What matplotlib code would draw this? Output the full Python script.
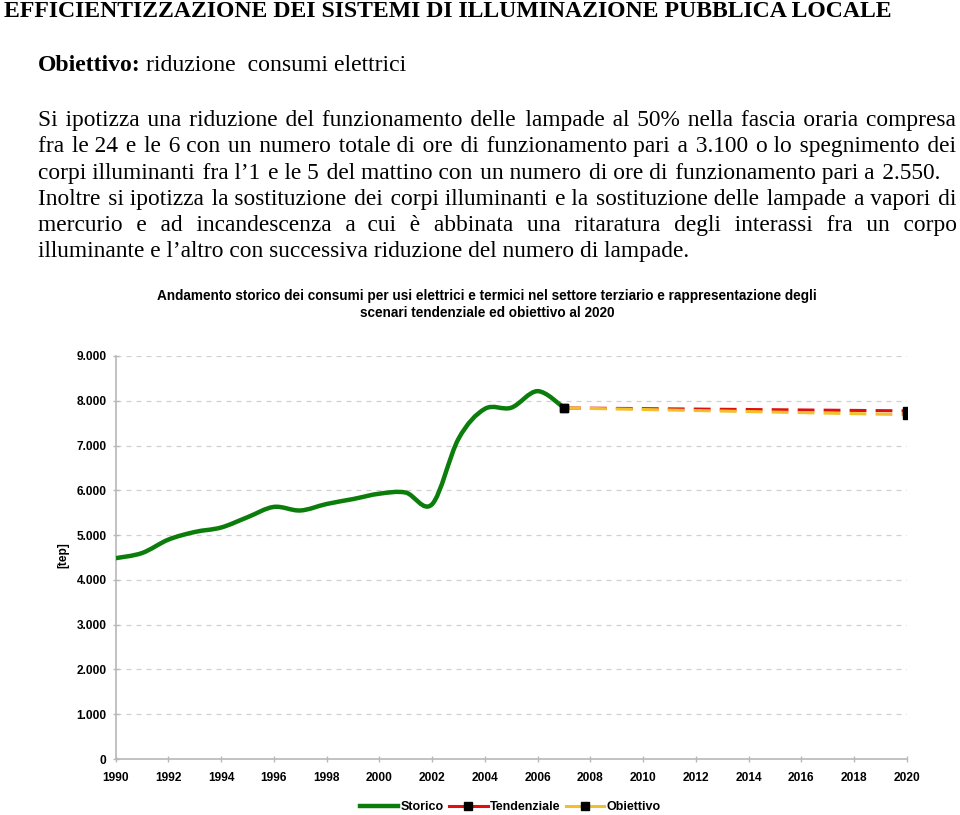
import matplotlib
matplotlib.use("Agg")
import matplotlib.pyplot as plt
from matplotlib.path import Path
from matplotlib.patches import PathPatch
from matplotlib.lines import Line2D
from matplotlib.ticker import FixedLocator, FuncFormatter

# dati
anni_storico = list(range(1990, 2008))
storico = [4485, 4600, 4900, 5070, 5170, 5400, 5630, 5550, 5695, 5805,
           5925, 5950, 5690, 7150, 7820, 7845, 8215, 7845]
anni_scenari = [2007, 2020]
tendenziale = [7840, 7775]
obiettivo = [7840, 7690]
anni_tick = list(range(1990, 2021, 2))
valori_tick = list(range(0, 9001, 1000))

titolo = "EFFICIENTIZZAZIONE DEI SISTEMI DI ILLUMINAZIONE PUBBLICA LOCALE"
obiettivo_testo = "riduzione  consumi elettrici"
righe = [
    "Si ipotizza una riduzione del funzionamento delle lampade al 50% nella fascia oraria compresa",
    "fra le 24 e le 6 con un numero totale di ore di funzionamento pari a 3.100 o lo spegnimento dei",
    "corpi illuminanti fra l\u20191 e le 5 del mattino con un numero di ore di funzionamento pari a 2.550.",
    "Inoltre si ipotizza la sostituzione dei corpi illuminanti e la sostituzione delle lampade a vapori di",
    "mercurio e ad incandescenza a cui \u00e8 abbinata una ritaratura degli interassi fra un corpo",
    "illuminante e l\u2019altro con successiva riduzione del numero di lampade.",
]
titolo_grafico = ("Andamento storico dei consumi per usi elettrici e termici nel settore terziario e rappresentazione degli\n"
                  "scenari tendenziale ed obiettivo al 2020")

W, H = 960, 815
SERIF = ["Liberation Serif", "DejaVu Serif"]
SANS = "Liberation Sans"
HAIR = "\u200a"


def fx(px):
    return px / W


def fy(py):
    return 1 - py / H


fig = plt.figure(figsize=(W / 100, H / 100), dpi=100)
renderer = fig.canvas.get_renderer()


def misura(s, size):
    t = fig.text(0, 0, s, family=SERIF, size=size)
    w = t.get_window_extent(renderer).width
    t.remove()
    return w


# testo sopra il grafico
fig.text(fx(4), fy(17), titolo, family=SERIF, weight="bold", size=17.1, va="baseline")
t = fig.text(fx(38), fy(71), "Obiettivo:", family=SERIF, weight="bold", size=17.1, va="baseline")
fig.text(fx(38 + t.get_window_extent(renderer).width + 5), fy(71), obiettivo_testo,
         family=SERIF, size=17.1, va="baseline")

# paragrafo giustificato: gli spazi sono riempiti con spazi normali + hair space
basi = [126, 152.3, 178.5, 205, 231.5, 257.5]
destra = [956, 956, 940, 956, 956, None]
size_par = 16.8
for riga, base, x1 in zip(righe, basi, destra):
    parole = riga.split()
    size = size_par
    if x1 is None:
        fig.text(fx(38), fy(base), riga, family=SERIF, size=size, va="baseline")
        continue
    while True:
        larg = [misura(p, size) for p in parole]
        w_sp = misura("x x", size) - misura("xx", size)
        spazio = ((x1 - 38) - sum(larg)) / (len(parole) - 1)
        if spazio >= w_sp * 0.7:
            break
        size -= 0.2
    w_hair = misura("x" + HAIR + "x", size) - misura("xx", size)
    testo = parole[0]
    pos = larg[0]
    voluto = larg[0]
    for p, w in zip(parole[1:], larg[1:]):
        voluto += spazio
        gap = voluto - pos
        n_sp = max(0, int(gap // w_sp))
        n_hair = max(0, round((gap - n_sp * w_sp) / w_hair)) if w_hair > 0 else 0
        if n_sp == 0 and n_hair == 0:
            n_hair = 1
        testo += " " * n_sp + HAIR * n_hair + p
        pos += n_sp * w_sp + n_hair * w_hair + w
        voluto += w
    fig.text(fx(38), fy(base), testo, family=SERIF, size=size, va="baseline")

fig.text(fx(487), fy(304.5), titolo_grafico, family=SANS, weight="bold", size=9.8,
         ha="center", va="center", linespacing=1.3)

# grafico
ax = fig.add_axes([fx(115.7), fy(759), (906.7 - 115.7) / W, (759 - 356) / H])
ax.set_xlim(1990, 2020)
ax.set_ylim(0, 9000)

# linea smussata come in Excel (Bezier cubiche)
pts = list(zip(anni_storico, storico))
verts = [pts[0]]
codes = [Path.MOVETO]
n = len(pts)
for i in range(n - 1):
    p0 = pts[max(i - 1, 0)]
    p1 = pts[i]
    p2 = pts[i + 1]
    p3 = pts[min(i + 2, n - 1)]
    c1 = (p1[0] + (p2[0] - p0[0]) / 6, p1[1] + (p2[1] - p0[1]) / 6)
    c2 = (p2[0] - (p3[0] - p1[0]) / 6, p2[1] - (p3[1] - p1[1]) / 6)
    verts += [c1, c2, p2]
    codes += [Path.CURVE4] * 3
ax.add_patch(PathPatch(Path(verts, codes), fill=False, edgecolor="#0a7d0a", lw=3.2,
                       capstyle="round", joinstyle="round", zorder=3))

ax.plot(anni_scenari, tendenziale, color="#e01010", lw=2.2, dashes=(5.5, 3), zorder=4)
ax.plot(anni_scenari, obiettivo, color="#f2c02a", lw=2.2, dashes=(5.5, 3), zorder=5)
ax.plot(anni_scenari, tendenziale, ls="none", marker="s", ms=6, color="black", zorder=6)
ax.plot(anni_scenari, obiettivo, ls="none", marker="s", ms=6, color="black", zorder=6)

for v in valori_tick[1:]:
    ax.axhline(v, color="#d0d0d0", lw=0.9, dashes=(4, 4), zorder=1)

for lato in ["top", "right"]:
    ax.spines[lato].set_visible(False)
for lato in ["left", "bottom"]:
    ax.spines[lato].set_color("#b8b8b8")
    ax.spines[lato].set_linewidth(1.2)

ax.xaxis.set_major_locator(FixedLocator(anni_tick))
ax.yaxis.set_major_locator(FixedLocator(valori_tick))
ax.yaxis.set_major_formatter(FuncFormatter(lambda v, pos: f"{int(v):,}".replace(",", ".")))
ax.tick_params(direction="inout", length=5, width=1, color="#b8b8b8",
               labelsize=8.6, pad=3)
for lab in ax.get_xticklabels() + ax.get_yticklabels():
    lab.set_fontfamily(SANS)
    lab.set_fontweight("bold")
ax.tick_params(axis="x", pad=7)
ax.tick_params(axis="y", pad=4)

fig.text(fx(63), fy(555), "[tep]", family=SANS, weight="bold", size=8.6,
         rotation=90, ha="center", va="center")

maniglie = [
    Line2D([], [], color="#0a7d0a", lw=3.2),
    Line2D([], [], color="#e01010", lw=2.2, marker="s", ms=6, mfc="black", mec="black"),
    Line2D([], [], color="#f2c02a", lw=2.2, marker="s", ms=6, mfc="black", mec="black"),
]
leg = fig.legend(maniglie, ["Storico", "Tendenziale", "Obiettivo"], loc="center",
                 bbox_to_anchor=(fx(510), fy(807)), ncol=3, frameon=False,
                 handlelength=3.1, handletextpad=0.15, columnspacing=0.45, numpoints=1,
                 prop={"family": SANS, "weight": "bold", "size": 9.0})

fig.savefig("out.png", dpi=100)
